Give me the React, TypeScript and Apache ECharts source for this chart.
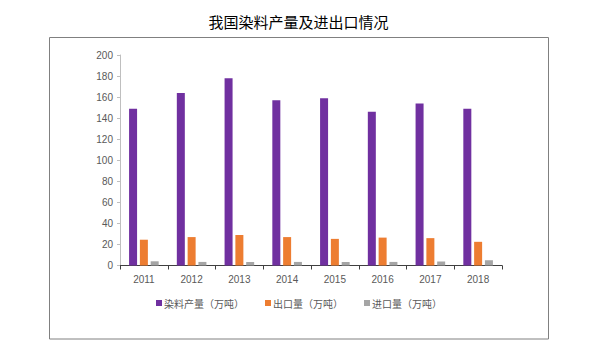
import React, { useEffect, useRef } from "react";
import * as echarts from "echarts";

const title = "我国染料产量及进出口情况";
const years = ["2011", "2012", "2013", "2014", "2015", "2016", "2017", "2018"];
const seriesNames = ["染料产量（万吨）", "出口量（万吨）", "进口量（万吨）"];
const production = [149, 164, 178, 157, 159, 146, 154, 149];
const exports = [24.5, 27, 29, 27, 25.3, 26.5, 26, 22.5];
const imports = [4, 3.4, 3.3, 3.4, 3.3, 3.4, 3.8, 5];
const colors = ["#7030A0", "#ED7D31", "#A5A5A5"];

export default function App() {
  const ref = useRef<HTMLDivElement>(null);
  useEffect(() => {
    if (!ref.current) return;
    const chart = echarts.init(ref.current, null, { renderer: "svg" });
    const data = [production, exports, imports];
    chart.setOption({
      animation: false,
      backgroundColor: "#ffffff",
      title: {
        text: title,
        left: "center",
        top: 9,
        textStyle: { fontSize: 15, fontWeight: "normal", color: "#000", fontFamily: "Noto Sans CJK SC" },
      },
      graphic: [
        {
          type: "rect",
          shape: { x: 49.5, y: 37.5, width: 499, height: 301.5 },
          style: { fill: "none", stroke: "#808080", lineWidth: 1 },
          silent: true,
        },
      ],
      legend: {
        data: seriesNames,
        left: 151,
        top: 293,
        itemWidth: 6,
        itemHeight: 6,
        itemGap: 21,
        icon: "rect",
        textStyle: { fontSize: 10, color: "#595959", fontFamily: "Noto Sans CJK SC", padding: [0, 0, 0, -3] },
      },
      grid: { left: 120, right: 95, top: 55, bottom: 90.5 },
      xAxis: {
        type: "category",
        data: years,
        axisLine: { lineStyle: { color: "#404040", width: 1 } },
        axisTick: { show: true, length: 4, lineStyle: { color: "#404040" }, inside: false },
        axisLabel: { color: "#595959", fontSize: 10, margin: 9, fontFamily: "Liberation Sans" },
      },
      yAxis: {
        type: "value",
        min: 0,
        max: 200,
        interval: 20,
        splitLine: { show: false },
        axisLine: { show: true, lineStyle: { color: "#BFBFBF" } },
        axisTick: { show: true, length: 3, lineStyle: { color: "#BFBFBF" } },
        axisLabel: { color: "#595959", fontSize: 10, margin: 7, fontFamily: "Liberation Sans" },
      },
      series: seriesNames.map((name, i) => ({
        name,
        type: "bar",
        data: data[i],
        barWidth: 8,
        barGap: "35%",
        itemStyle: { color: colors[i] },
      })),
    });
    return () => chart.dispose();
  }, []);
  return <div ref={ref} style={{ width: 597, height: 356, position: "absolute", left: 0, top: 0 }} />;
}
